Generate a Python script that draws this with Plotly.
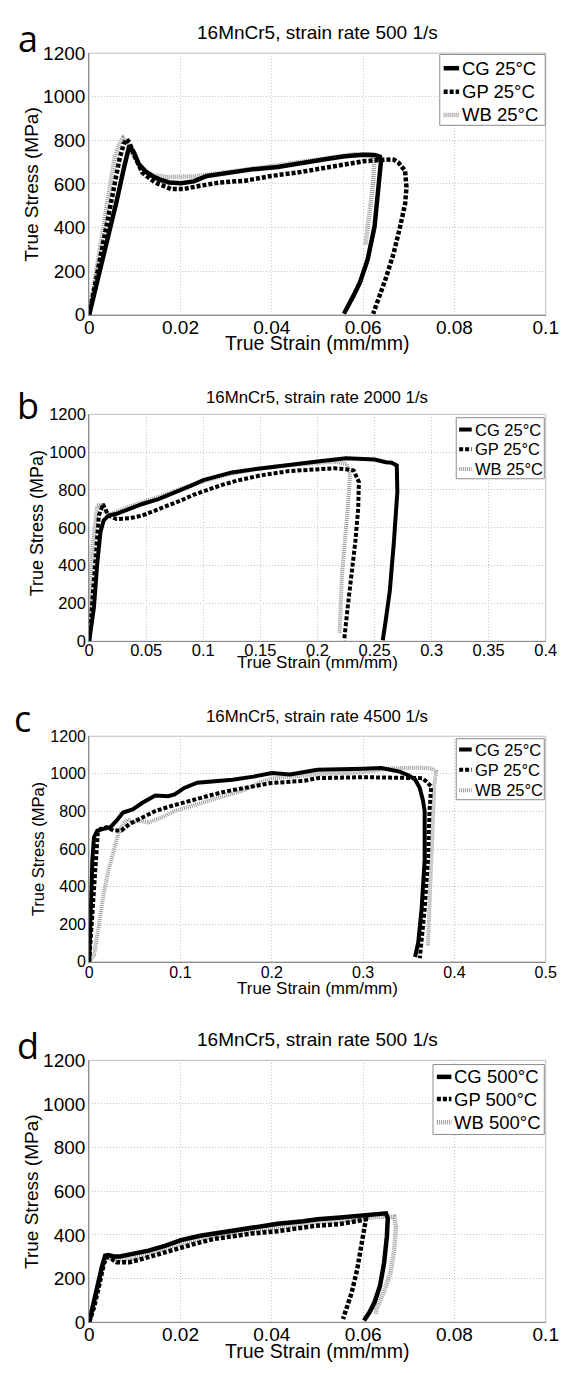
import plotly.graph_objects as go

# page is 574x1373; the html body adds an 8px margin, so the figure itself is 16px smaller
PAGE_W, PAGE_H = 574, 1373
OFF = 8
W, H = PAGE_W - 2 * OFF, PAGE_H - 2 * OFF

# ---------------- data (true strain mm/mm, true stress MPa) ----------------
series_names_25 = ["CG 25°C", "GP 25°C", "WB 25°C"]
series_names_500 = ["CG 500°C", "GP 500°C", "WB 500°C"]
panel_titles = ["16MnCr5, strain rate 500 1/s", "16MnCr5, strain rate 2000 1/s",
                "16MnCr5, strain rate 4500 1/s", "16MnCr5, strain rate 500 1/s"]
panel_letters = ["a", "b", "c", "d"]

y_ticks = [0, 200, 400, 600, 800, 1000, 1200]
x_ticks_a = [0, 0.02, 0.04, 0.06, 0.08, 0.1]
x_ticklabels_a = ["0", "0.02", "0.04", "0.06", "0.08", "0.1"]
x_ticks_b = [0, 0.05, 0.1, 0.15, 0.2, 0.25, 0.3, 0.35, 0.4]
x_ticklabels_b = ["0", "0.05", "0.1", "0.15", "0.2", "0.25", "0.3", "0.35", "0.4"]
x_ticks_c = [0, 0.1, 0.2, 0.3, 0.4, 0.5]
x_ticklabels_c = ["0", "0.1", "0.2", "0.3", "0.4", "0.5"]

# panel a: 500 1/s, 25 C
a_cg_strain = [0, 0.002, 0.004, 0.006, 0.0078, 0.0088, 0.0098, 0.0109, 0.0125, 0.0138, 0.0155, 0.0175,
               0.0201, 0.0229, 0.0258, 0.030, 0.0356, 0.0413, 0.0483, 0.052, 0.056, 0.060, 0.0625, 0.0637,
               0.0639, 0.0635, 0.0625, 0.0610, 0.0593, 0.0579, 0.0568, 0.0558]
a_cg_stress = [0, 170, 340, 520, 690, 775, 745, 690, 655, 637, 620, 607,
               603, 612, 637, 652, 667, 678, 705, 715, 727, 734, 733, 725,
               700, 600, 404, 254, 148, 88, 45, 5]
a_gp_strain = [0, 0.002, 0.004, 0.0067, 0.0076, 0.0082, 0.0088, 0.0098, 0.01165, 0.01446, 0.018, 0.0208,
               0.0243, 0.0286, 0.0342, 0.0399, 0.0455, 0.0494, 0.055, 0.060, 0.0649, 0.0668, 0.0678, 0.0692,
               0.0695, 0.0692, 0.0681, 0.0667, 0.0649, 0.0632, 0.0622]
a_gp_stress = [0, 215, 430, 720, 785, 805, 790, 735, 652, 607, 577, 577,
               592, 607, 615, 637, 652, 667, 690, 704, 712, 711, 697, 660,
               585, 509, 404, 283, 163, 58, 5]
a_wb_strain = [0, 0.002, 0.004, 0.0056, 0.0067, 0.0074, 0.0082, 0.0095, 0.0115, 0.014, 0.017, 0.020,
               0.023, 0.026, 0.030, 0.035, 0.040, 0.045, 0.050, 0.055, 0.058, 0.0615, 0.0625, 0.0622,
               0.0614, 0.0605]
a_wb_stress = [0, 260, 520, 720, 790, 810, 790, 735, 670, 640, 632, 633,
               635, 642, 655, 668, 682, 697, 715, 730, 736, 735, 720, 600,
               450, 320]

# panel b: 2000 1/s, 25 C
b_cg_strain = [0, 0.0042, 0.007, 0.0099, 0.0127, 0.0169, 0.024, 0.0352, 0.0466, 0.0607, 0.0748, 0.0889,
               0.1, 0.125, 0.15, 0.175, 0.2, 0.225, 0.25, 0.26, 0.265, 0.2695, 0.270, 0.267, 0.2634,
               0.2594, 0.2572]
b_cg_stress = [0, 179, 405, 578, 639, 665, 674, 700, 726, 752, 785, 822,
               852, 893, 914, 930, 951, 968, 961, 947, 944, 930, 790, 528, 267,
               92, 5]
b_gp_strain = [0, 0.0028, 0.0056, 0.0085, 0.0121, 0.0169, 0.024, 0.0352, 0.0466, 0.0578, 0.069, 0.0805,
               0.0917, 0.103, 0.117, 0.13, 0.15, 0.175, 0.2, 0.215, 0.225, 0.2317, 0.2363, 0.2357,
               0.2332, 0.2295, 0.2265, 0.2234]
b_gp_stress = [0, 230, 489, 665, 725, 665, 646, 650, 665, 690, 716, 745,
               775, 800, 828, 850, 877, 900, 912, 915, 910, 903, 842, 703,
               528, 354, 180, 5]
b_wb_strain = [0, 0.0008, 0.0028, 0.005, 0.007, 0.0099, 0.013, 0.017, 0.035, 0.06, 0.09, 0.12,
               0.15, 0.17, 0.2, 0.215, 0.2255, 0.2286, 0.2265, 0.224, 0.2215, 0.2203, 0.2194]
b_wb_stress = [0, 317, 489, 640, 717, 726, 690, 668, 712, 762, 828, 880,
               915, 928, 945, 950, 938, 877, 703, 528, 354, 180, 40]

# panel c: 4500 1/s, 25 C
c_cg_strain = [0, 0.0017, 0.0035, 0.0053, 0.0088, 0.0159, 0.023, 0.030, 0.0371, 0.0477, 0.0583, 0.0724,
               0.0865, 0.0936, 0.1042, 0.1183, 0.136, 0.157, 0.18, 0.2, 0.22, 0.25, 0.3, 0.32, 0.34,
               0.35, 0.357, 0.362, 0.3655, 0.3674, 0.3674, 0.364, 0.3604, 0.3569]
c_cg_stress = [0, 280, 541, 663, 698, 707, 715, 751, 794, 811, 846, 885,
               881, 890, 925, 953, 959, 968, 985, 1004, 996, 1022, 1027, 1031, 1012,
               991, 970, 925, 860, 802, 541, 280, 105, 26]
c_gp_strain = [0, 0.0035, 0.007, 0.0095, 0.0123, 0.0194, 0.0265, 0.0353, 0.0441, 0.0583, 0.0724, 0.0901,
               0.1077, 0.1289, 0.1501, 0.1784, 0.1996, 0.235, 0.25, 0.3, 0.33, 0.35, 0.365, 0.3692,
               0.3745, 0.3727, 0.371, 0.3674, 0.364, 0.3621]
c_gp_stress = [0, 280, 541, 688, 707, 716, 698, 698, 733, 768, 802, 829,
               855, 881, 907, 933, 951, 963, 977, 982, 982, 980, 977, 959,
               933, 802, 541, 280, 105, 19]
c_wb_strain = [0, 0.0017, 0.0053, 0.0106, 0.0159, 0.0212, 0.0265, 0.0318, 0.0371, 0.0424, 0.0477, 0.0547,
               0.0653, 0.0795, 0.0936, 0.1113, 0.1289, 0.1466, 0.1713, 0.1855, 0.2, 0.25, 0.3, 0.33,
               0.36, 0.375, 0.38, 0.378, 0.3763, 0.3745, 0.3727, 0.371]
c_wb_stress = [0, 9, 35, 192, 366, 488, 593, 680, 733, 759, 742, 750,
               742, 768, 802, 829, 855, 881, 916, 951, 975, 998, 1008, 1029,
               1033, 1029, 1012, 942, 716, 454, 244, 87]

# panel d: 500 1/s, 500 C
d_cg_strain = [0, 0.0007, 0.0018, 0.0028, 0.0035, 0.0042, 0.0053, 0.0067, 0.0095, 0.013, 0.0166, 0.0201,
               0.0243, 0.0286, 0.0328, 0.037, 0.0413, 0.0469, 0.05, 0.055, 0.06, 0.063, 0.065, 0.0654,
               0.0652, 0.0646, 0.0637, 0.0625, 0.0614, 0.0602]
d_cg_stress = [0, 57, 162, 253, 305, 308, 301, 301, 313, 328, 350, 376,
               396, 410, 426, 437, 451, 463, 472, 480, 491, 498, 499, 475,
               392, 272, 166, 91, 45, 8]
d_gp_strain = [0, 0.0011, 0.0021, 0.0032, 0.0039, 0.0049, 0.006, 0.0088, 0.0116, 0.0152, 0.0187, 0.0229,
               0.0272, 0.0314, 0.0356, 0.0413, 0.0469, 0.0494, 0.055, 0.060, 0.0606, 0.0602, 0.0595,
               0.0587, 0.0575, 0.0564, 0.0556]
d_gp_stress = [0, 72, 162, 268, 298, 290, 275, 275, 290, 313, 336, 358,
               381, 396, 406, 417, 433, 441, 450, 465, 471, 423, 332,
               241, 136, 60, 15]
d_wb_strain = [0, 0.001, 0.002, 0.003, 0.0037, 0.0045, 0.006, 0.010, 0.015, 0.020, 0.025, 0.030,
               0.035, 0.040, 0.045, 0.050, 0.055, 0.060, 0.063, 0.0655, 0.0668, 0.0672, 0.0668,
               0.066, 0.0645, 0.0629, 0.0628]
d_wb_stress = [0, 90, 190, 275, 300, 295, 285, 292, 325, 360, 385, 402,
               418, 430, 445, 458, 463, 475, 483, 483, 483, 438, 332,
               226, 136, 60, 38]

# ---------------- layout geometry (page pixels) ----------------
FONT = "Liberation Sans, Arial, Helvetica, sans-serif"
LETTER_FONT = "Open Sans, Noto Sans, sans-serif"
X0, X1 = 86.7, 558.5


def fx(p):
    return (p - OFF) / W


def fy(p):
    return 1 - (p - OFF) / H


panels = [
    dict(top=43.7, bot=309.5, xmax=0.1, xt=x_ticks_a, xl=x_ticklabels_a, tick=19, title=19, ttl_y=23,
         letter_xy=(23, 29), xtitle_y=338, ytitle_xy=(27, 177), xat=19.5, yat=19, leg=(449, 558, 45, 117),
         rows=[59, 83, 106.5], samp=(453, 469), legf=18.5, names=series_names_25, lw=4.5, xso=-5,
         data=[(a_cg_strain, a_cg_stress), (a_gp_strain, a_gp_stress), (a_wb_strain, a_wb_stress)]),
    dict(top=410.6, bot=641.0, xmax=0.4, xt=x_ticks_b, xl=x_ticklabels_b, tick=16.5, title=16.8, ttl_y=393,
         letter_xy=(23, 402), xtitle_y=663, ytitle_xy=(33, 521), xat=17, yat=18, leg=(466, 557, 414, 476),
         rows=[426, 446, 466], samp=(469, 482), legf=16.5, names=series_names_25, lw=4, xso=-6,
         data=[(b_cg_strain, b_cg_stress), (b_gp_strain, b_gp_stress), (b_wb_strain, b_wb_stress)]),
    dict(top=737.5, bot=966.7, xmax=0.5, xt=x_ticks_c, xl=x_ticklabels_c, tick=16, title=16.8, ttl_y=717,
         letter_xy=(18, 720), xtitle_y=994, ytitle_xy=(34, 852), xat=17, yat=16.5, leg=(466, 557, 740, 802),
         rows=[751, 771.5, 792.5], samp=(469, 482), legf=16.5, names=series_names_25, lw=4, xso=-4,
         data=[(c_cg_strain, c_cg_stress), (c_gp_strain, c_gp_stress), (c_wb_strain, c_wb_stress)]),
    dict(top=1066.7, bot=1332.7, xmax=0.1, xt=x_ticks_a, xl=x_ticklabels_a, tick=19, title=19, ttl_y=1046,
         letter_xy=(23, 1052), xtitle_y=1362, ytitle_xy=(27, 1200), xat=19.5, yat=19, leg=(442, 557, 1071, 1142),
         rows=[1083.5, 1106, 1129.5], samp=(446, 461), legf=18.5, names=series_names_500, lw=4.5, xso=-5,
         data=[(d_cg_strain, d_cg_stress), (d_gp_strain, d_gp_stress), (d_wb_strain, d_wb_stress)]),
]

styles = [  # CG, GP, WB
    dict(color="#000000", dash="solid"),
    dict(color="#000000", dash="4px,2px"),
    dict(color="#9a9a9a", dash="1px,1px"),
]

fig = go.Figure()
layout = dict(width=W, height=H, margin=dict(l=0, r=0, t=0, b=0), paper_bgcolor="white",
              plot_bgcolor="white", showlegend=False, font=dict(family=FONT, color="black"))
annotations = []
shapes = []

for i, p in enumerate(panels):
    n = "" if i == 0 else str(i + 1)
    xa, ya = "x" + n, "y" + n
    layout["xaxis" + n] = dict(domain=[fx(X0), fx(X1)], range=[0, p["xmax"]], anchor=ya,
                               tickvals=p["xt"], ticktext=p["xl"], ticks="", showline=True,
                               linecolor="#8c8c8c", linewidth=1, showgrid=True, gridcolor="#c4c4c4",
                               griddash="1px,2px", gridwidth=1, zeroline=False, fixedrange=True,
                               ticklabelstandoff=p["xso"], ticklabeloverflow="allow",
                               tickfont=dict(size=p["tick"], family=FONT, color="black"))
    layout["yaxis" + n] = dict(domain=[fy(p["bot"]), fy(p["top"])], range=[0, 1200], anchor=xa,
                               tickvals=y_ticks, ticks="", showline=True, linecolor="#8c8c8c",
                               linewidth=1, showgrid=True, gridcolor="#c4c4c4", griddash="1px,2px",
                               gridwidth=1, zeroline=False, fixedrange=True, ticklabelstandoff=-1,
                               ticklabeloverflow="allow",
                               tickfont=dict(size=p["tick"], family=FONT, color="black"))
    # light frame round the plot area
    shapes.append(dict(type="rect", xref="paper", yref="paper", x0=fx(X0), x1=fx(X1),
                       y0=fy(p["bot"]), y1=fy(p["top"]), line=dict(color="#bdbdbd", width=1),
                       layer="below"))
    # curves: WB drawn first, CG on top
    for k in [2, 1, 0]:
        sx, sy = p["data"][k]
        st = styles[k]
        fig.add_trace(go.Scatter(x=sx, y=sy, xaxis=xa, yaxis=ya, mode="lines", name=p["names"][k],
                                 line=dict(color=st["color"], width=p["lw"], dash=st["dash"]),
                                 showlegend=False, hoverinfo="skip"))
    # title
    annotations.append(dict(text=panel_titles[i], x=fx((X0 + X1) / 2), y=fy(p["ttl_y"]), xref="paper",
                            yref="paper", xanchor="center", yanchor="middle", showarrow=False,
                            font=dict(size=p["title"], family=FONT, color="black")))
    # panel letter
    annotations.append(dict(text=panel_letters[i], x=fx(p["letter_xy"][0]), y=fy(p["letter_xy"][1]),
                            xref="paper", yref="paper", xanchor="center", yanchor="middle",
                            showarrow=False, font=dict(size=36, family=LETTER_FONT, color="black")))
    # axis titles
    annotations.append(dict(text="True Strain (mm/mm)", x=fx((X0 + X1) / 2), y=fy(p["xtitle_y"]),
                            xref="paper", yref="paper", xanchor="center", yanchor="middle",
                            showarrow=False, font=dict(size=p["xat"], family=FONT, color="black")))
    annotations.append(dict(text="True Stress (MPa)", x=fx(p["ytitle_xy"][0]), y=fy(p["ytitle_xy"][1]),
                            xref="paper", yref="paper", xanchor="center", yanchor="middle",
                            textangle=-90, showarrow=False,
                            font=dict(size=p["yat"], family=FONT, color="black")))
    # legend box
    lx0, lx1, ly0, ly1 = p["leg"]
    shapes.append(dict(type="rect", xref="paper", yref="paper", x0=fx(lx0), x1=fx(lx1), y0=fy(ly1),
                       y1=fy(ly0), line=dict(color="#8c8c8c", width=1), fillcolor="white", layer="above"))
    for k in range(3):
        st = styles[k]
        ry = p["rows"][k]
        shapes.append(dict(type="line", xref="paper", yref="paper", x0=fx(p["samp"][0]),
                           x1=fx(p["samp"][1]), y0=fy(ry), y1=fy(ry), layer="above",
                           line=dict(color=st["color"], width=p["lw"], dash=st["dash"])))
        annotations.append(dict(text=p["names"][k], x=fx(p["samp"][1] + 1), y=fy(ry), xref="paper",
                                yref="paper", xanchor="left", yanchor="middle", showarrow=False,
                                font=dict(size=p["legf"], family=FONT, color="black")))

layout["annotations"] = annotations
layout["shapes"] = shapes
fig.update_layout(**layout)
fig.write_html("out.html")
